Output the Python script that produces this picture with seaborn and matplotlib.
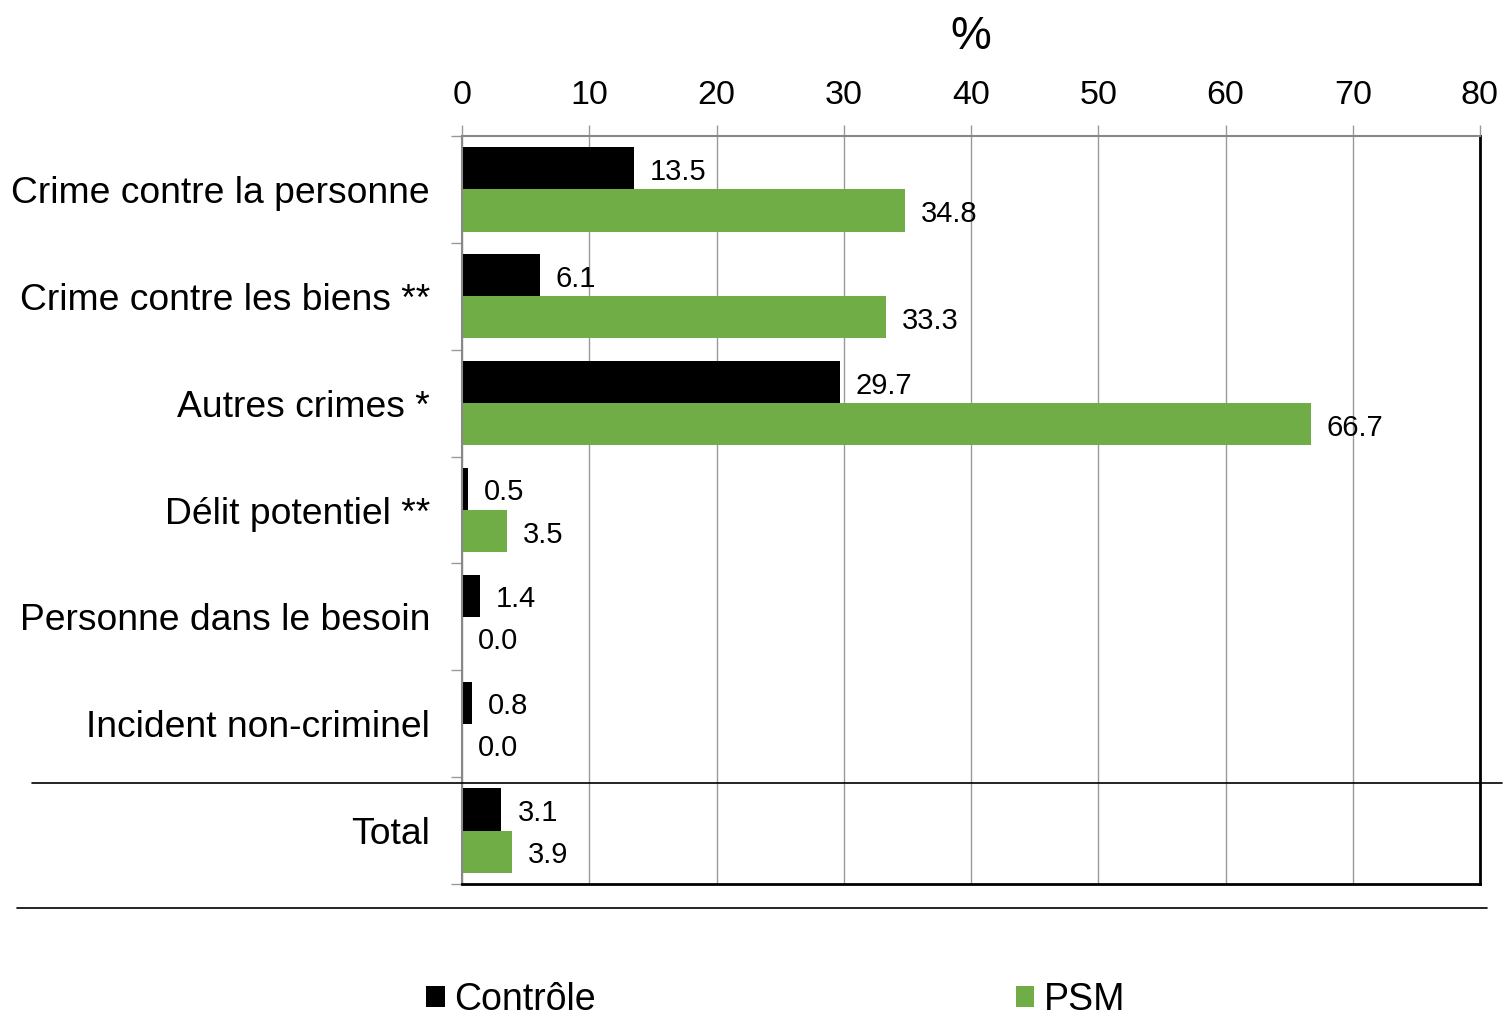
import matplotlib
matplotlib.use("Agg")
import matplotlib.pyplot as plt
from matplotlib.lines import Line2D
import seaborn as sns
import pandas as pd
import numpy as np

categories = [
    "Crime contre la personne",
    "Crime contre les biens **",
    "Autres crimes *",
    "Délit potentiel **",
    "Personne dans le besoin",
    "Incident non-criminel",
    "Total",
]
controle = [13.5, 6.1, 29.7, 0.5, 1.4, 0.8, 3.1]
psm = [34.8, 33.3, 66.7, 3.5, 0.0, 0.0, 3.9]
series_names = ["Contrôle", "PSM"]
colors = ["#000000", "#70AD47"]
x_ticks = [0, 10, 20, 30, 40, 50, 60, 70, 80]

df = pd.DataFrame({
    "Catégorie": categories * 2,
    "Groupe": [series_names[0]] * len(categories) + [series_names[1]] * len(categories),
    "Valeur": controle + psm,
})

sns.set_style("white")
plt.rcParams["font.family"] = ["Liberation Sans", "DejaVu Sans"]
plt.rcParams["text.color"] = "#000000"
plt.rcParams["axes.labelcolor"] = "#000000"
plt.rcParams["xtick.color"] = "#000000"
plt.rcParams["ytick.color"] = "#000000"

fig = plt.figure(figsize=(15.06, 10.19), dpi=100)
ax = fig.add_axes([462 / 1506, 1 - 884 / 1019, (1480 - 462) / 1506, (884 - 136) / 1019])

sns.barplot(data=df, y="Catégorie", x="Valeur", hue="Groupe", order=categories,
            hue_order=series_names, palette=colors, orient="h", width=0.79,
            saturation=1, ax=ax, legend=True, linewidth=0)

for cont in ax.containers:
    anns = ax.bar_label(cont, fmt="%.1f", padding=11, fontsize=21, color="#000000")
    for a in anns:
        a.xyann = (11.5, -2.5)

ax.set_xlim(0, 80)
ax.set_ylim(len(categories) - 0.5, -0.5)
ax.xaxis.tick_top()
ax.xaxis.set_label_position("top")
ax.set_xticks(x_ticks)
ax.set_xticklabels([str(t) for t in x_ticks], fontsize=24.5)
ax.set_xlabel("%", fontsize=33, labelpad=22)
ax.set_ylabel("")
ax.tick_params(axis="x", which="major", direction="out", length=8, width=1,
               color="#999999", labelcolor="#000000", pad=10, top=True, bottom=False)

ax.set_yticks(range(len(categories)))
ax.set_yticklabels(categories, fontsize=26.8)
ax.set_yticks(np.arange(-0.5, len(categories), 1), minor=True)
ax.tick_params(axis="y", which="major", length=0, pad=23, labelcolor="#000000")
ax.tick_params(axis="y", which="minor", length=8, width=1, color="#999999", left=True)

ax.grid(axis="x", color="#999999", linewidth=1)
ax.set_axisbelow(True)

for side in ["top", "left"]:
    ax.spines[side].set_color("#888888")
    ax.spines[side].set_linewidth(1.5)
for side in ["right", "bottom"]:
    ax.spines[side].set_color("#000000")
    ax.spines[side].set_linewidth(2)
    ax.spines[side].set_visible(True)

# separator lines above the total row and below the plot
fig.add_artist(Line2D([32 / 1506, 1502 / 1506], [1 - 783 / 1019] * 2,
                      color="#000000", linewidth=1.2))
fig.add_artist(Line2D([17 / 1506, 1487 / 1506], [1 - 908 / 1019] * 2,
                      color="#000000", linewidth=1.2))

handles, labels = ax.get_legend_handles_labels()
ax.get_legend().remove()
fig.legend(handles, labels, loc="center", bbox_to_anchor=(0.515, 0.019), ncol=2,
           frameon=False, fontsize=27, handlelength=0.5, handleheight=0.5,
           handletextpad=0.25, columnspacing=11.2)

fig.savefig("out.png", dpi=100)
